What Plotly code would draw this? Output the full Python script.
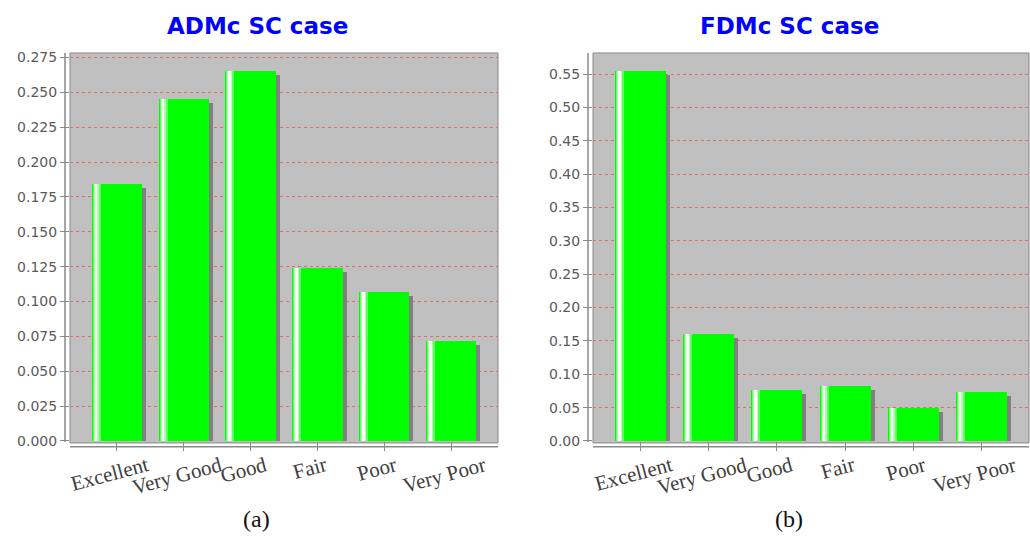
import plotly.graph_objects as go

categories = ["Excellent", "Very Good", "Good", "Fair", "Poor", "Very Poor"]
adm_values = [0.184, 0.245, 0.265, 0.124, 0.107, 0.072]
fdm_values = [0.554, 0.160, 0.076, 0.083, 0.050, 0.073]
adm_ticks = [i * 0.025 for i in range(12)]
fdm_ticks = [i * 0.05 for i in range(12)]
titles = ["ADMc SC case", "FDMc SC case"]
sub_labels = ["(a)", "(b)"]

W, H = 1030, 545
GREEN = "#00ff00"
SHADOW = "#808080"
BG = "#c0c0c0"
GRID = "#e86a6a"
AXIS = "#8a8a8a"

# pixel layout of the two panels
panels = [
    dict(x0=70, x1=498, title_x=257.5, sub_x=256.5),
    dict(x0=593, x1=1029, title_x=789.5, sub_x=788.5),
]
PY0, PY1 = 51, 447  # top, bottom of plot areas (pixels)

fig = go.Figure()

BAR_W = 0.75
CAT_PAD = 0.70

def px_to_paper_x(px):
    return px / W

def px_to_paper_y(py):
    return 1 - py / H

datasets = [(adm_values, adm_ticks, ".3f"), (fdm_values, fdm_ticks, ".2f")]

for i, ((vals, ticks, fmt), p) in enumerate(zip(datasets, panels)):
    xa = "x" if i == 0 else "x2"
    ya = "y" if i == 0 else "y2"
    ymax = max(vals) * 1.05
    plot_w = p["x1"] - p["x0"]
    cat_px = plot_w / (len(categories) - 1 + 2 * CAT_PAD)
    unit_x = 1.0 / cat_px  # category units per pixel
    unit_y = ymax / (PY1 - PY0)  # value units per pixel

    # shadow
    fig.add_trace(go.Bar(
        x=categories, y=[v - 4 * unit_y for v in vals], xaxis=xa, yaxis=ya,
        width=BAR_W, offset=-BAR_W / 2 + 4 * unit_x,
        marker=dict(color=SHADOW, line=dict(width=0)), hoverinfo="skip", showlegend=False))
    # main bar
    fig.add_trace(go.Bar(
        x=categories, y=vals, xaxis=xa, yaxis=ya,
        width=BAR_W, offset=-BAR_W / 2,
        marker=dict(color=GREEN, line=dict(width=0)), showlegend=False))
    # highlight stripes (gradient look)
    for off_px, w_px, col in [(1, 8, "#60ff60"), (2, 5, "#b0ffb0"), (3, 2.5, "#ffffff")]:
        fig.add_trace(go.Bar(
            x=categories, y=vals, xaxis=xa, yaxis=ya,
            width=w_px * unit_x, offset=-BAR_W / 2 + off_px * unit_x,
            marker=dict(color=col, line=dict(width=0)), hoverinfo="skip", showlegend=False))

    xdom = [px_to_paper_x(p["x0"]), px_to_paper_x(p["x1"])]
    ydom = [px_to_paper_y(PY1), px_to_paper_y(PY0)]
    xkey = "xaxis" if i == 0 else "xaxis2"
    ykey = "yaxis" if i == 0 else "yaxis2"
    fig.update_layout(**{
        xkey: dict(domain=xdom, anchor=ya, type="category",
                   range=[-CAT_PAD, len(categories) - 1 + CAT_PAD],
                   showticklabels=False, ticks="outside", ticklen=9, tickcolor=AXIS,
                   showgrid=False, zeroline=False, showline=False, fixedrange=True),
        ykey: dict(domain=ydom, anchor=xa, range=[0, ymax],
                   tickvals=ticks, ticktext=[format(t, fmt) for t in ticks],
                   ticks="outside", ticklen=9, tickcolor=AXIS,
                   tickfont=dict(family="DejaVu Sans", size=14, color="#5a5a5a"),
                   showgrid=True, gridcolor=GRID, gridwidth=1, griddash="3px,3px",
                   zeroline=False, showline=False, fixedrange=True),
    })

    # plot background and border
    fig.add_shape(type="rect", xref="paper", yref="paper",
                  x0=xdom[0], x1=xdom[1], y0=px_to_paper_y(PY1 + 2), y1=ydom[1],
                  fillcolor=BG, line=dict(color=AXIS, width=1), layer="below")
    # offset axis lines
    fig.add_shape(type="line", xref="paper", yref="paper",
                  x0=px_to_paper_x(p["x0"] - 5), x1=px_to_paper_x(p["x0"] - 5),
                  y0=px_to_paper_y(PY1 + 1), y1=px_to_paper_y(PY0),
                  line=dict(color=AXIS, width=1.5))
    fig.add_shape(type="line", xref="paper", yref="paper",
                  x0=xdom[0], x1=xdom[1],
                  y0=px_to_paper_y(PY1 + 6), y1=px_to_paper_y(PY1 + 6),
                  line=dict(color=AXIS, width=1.5))

    # category labels (rotated)
    for c in categories:
        fig.add_annotation(x=c, xref=xa, y=px_to_paper_y(PY1 + 9), yref="paper",
                           text=c, showarrow=False, textangle=-15,
                           xanchor="center", yanchor="top", xshift=-7,
                           font=dict(family="Liberation Serif", size=21, color="#404040"))

    # title
    fig.add_annotation(x=px_to_paper_x(p["title_x"]), y=px_to_paper_y(23), xref="paper", yref="paper",
                       text="<b>%s</b>" % titles[i], showarrow=False,
                       xanchor="center", yanchor="middle",
                       font=dict(family="DejaVu Sans", size=23, color="#0000ff"))
    # sub label
    fig.add_annotation(x=px_to_paper_x(p["sub_x"]), y=px_to_paper_y(527), xref="paper", yref="paper",
                       text=sub_labels[i], showarrow=False,
                       xanchor="center", yanchor="middle",
                       font=dict(family="Liberation Serif", size=24, color="#111111"))

fig.update_layout(
    width=W, height=H, autosize=False, margin=dict(l=0, r=0, t=0, b=0),
    paper_bgcolor="white", plot_bgcolor="rgba(0,0,0,0)",
    barmode="overlay", bargap=0, showlegend=False,
)

post = "document.body.style.margin='0';document.body.style.overflow='hidden';"
fig.write_html("out.html", config={"displayModeBar": False, "responsive": False}, post_script=post)
